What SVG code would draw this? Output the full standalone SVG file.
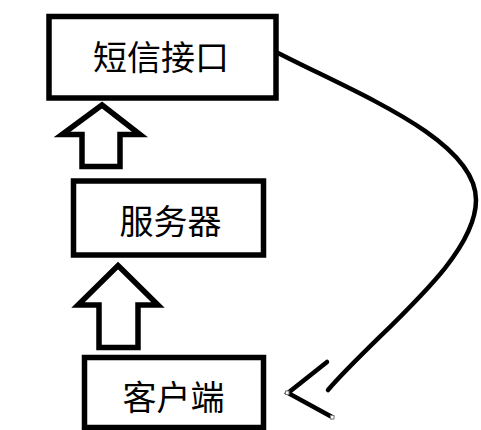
<svg xmlns="http://www.w3.org/2000/svg" width="481" height="430" viewBox="0 0 481 430">
<style>
.box{fill:#fff;stroke:#000;stroke-width:5.5}
.up{fill:#fff;stroke:#000;stroke-width:5.5;stroke-linejoin:miter;stroke-miterlimit:10}
.lbl{font-family:"Noto Sans CJK SC","Noto Sans CJK JP",sans-serif;font-size:34px;fill:#000;text-anchor:middle}
.curve{fill:none;stroke:#000;stroke-width:4.5;stroke-linecap:round}
.handle{fill:#fff;stroke:#777;stroke-width:1}
</style>
<rect width="481" height="430" fill="#fff"/>
<g id="sms">
<rect class="box" x="49" y="16.5" width="227" height="81.5"/>
<text class="lbl" x="161" y="70">短信接口</text>
</g>
<g id="server">
<rect class="box" x="73.5" y="181" width="190" height="74"/>
<text class="lbl" x="170.5" y="234">服务器</text>
</g>
<g id="client">
<rect class="box" x="84.5" y="357.5" width="179" height="70"/>
<text class="lbl" x="173.5" y="410">客户端</text>
</g>
<g id="connectors">
<polygon class="up" points="102,105 140,134.5 120,134.5 120,166.5 82,166.5 82,134.5 62,134.5"/>
<polygon class="up" points="118,265.5 158,305 138,305 138,347.5 99,347.5 99,305 78,305"/>
<path class="curve" d="M278,53 C360,95 476,140 476,200 C476,260 380,330 328,390"/>
<polyline class="curve" points="327,362 288,393 332,417"/>
<rect class="handle" x="285.5" y="391" width="3.5" height="3.5"/>
<rect class="handle" x="330.5" y="415.5" width="3.5" height="3.5"/>
</g>
</svg>
